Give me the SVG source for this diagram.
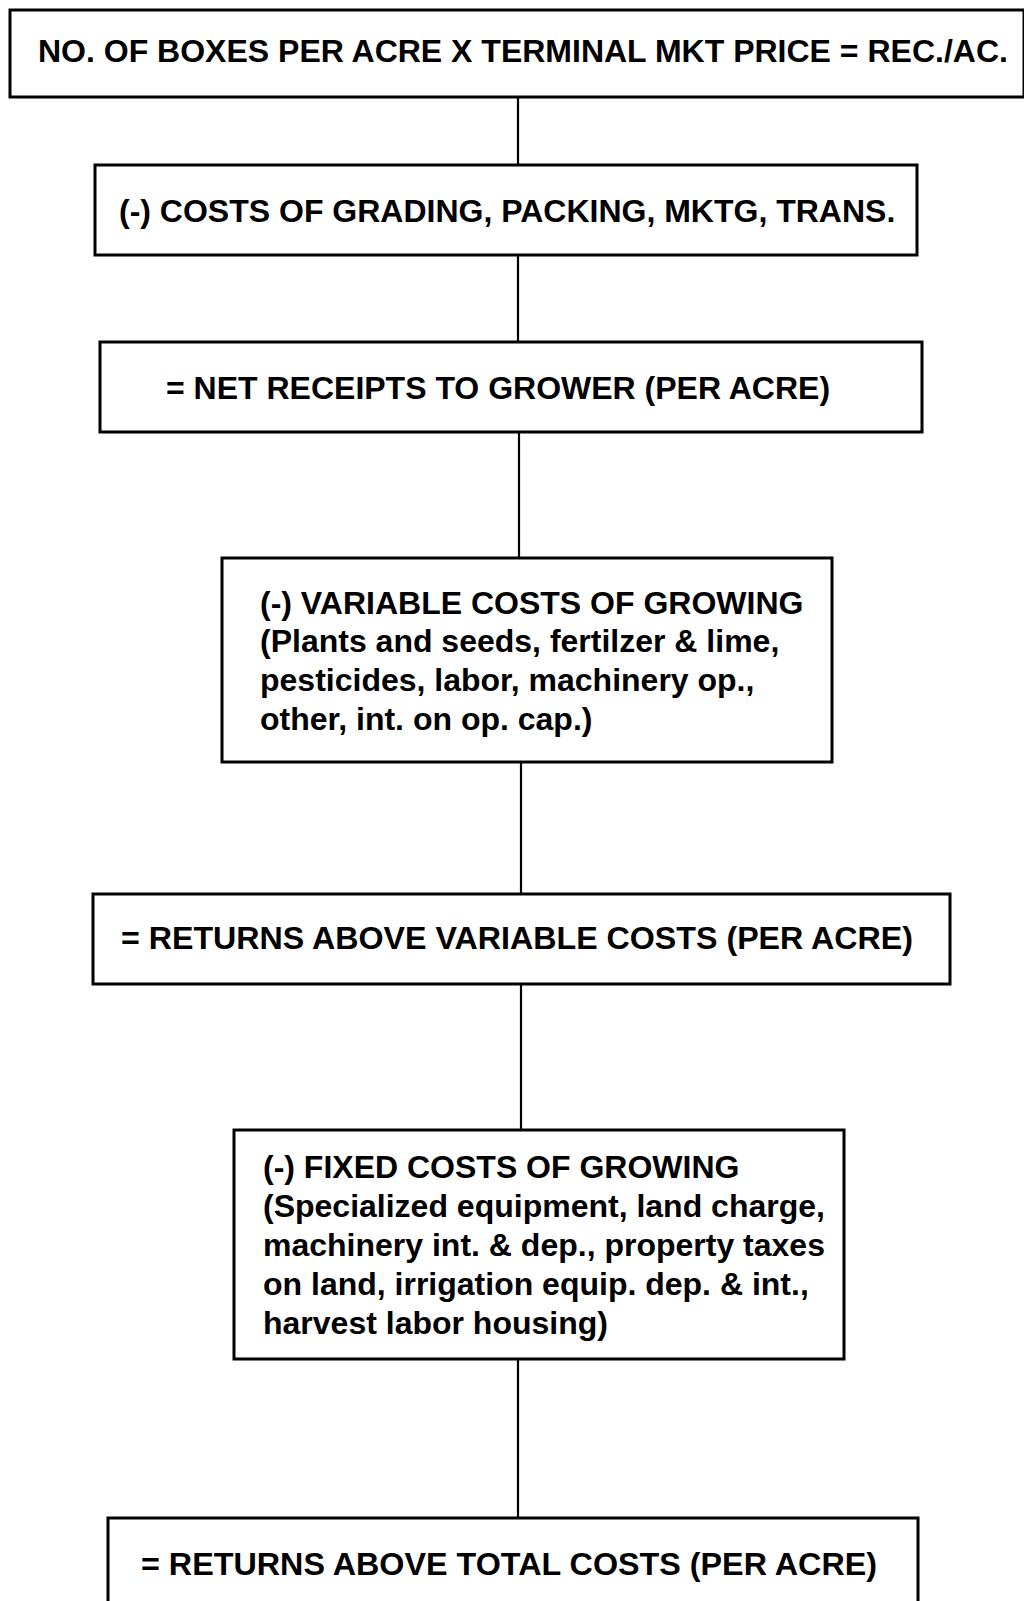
<svg xmlns="http://www.w3.org/2000/svg" width="1024" height="1601" viewBox="0 0 1024 1601">
<style>
.box{fill:#fff;stroke:#000;stroke-width:3}
.conn line{stroke:#000;stroke-width:2.2}
text{font-family:"Liberation Sans",Arial,sans-serif;font-weight:bold;font-size:32px;fill:#000}
</style>
<rect x="0" y="0" width="1024" height="1601" fill="#fff"/>
<g id="connectors" class="conn">
<line x1="518" y1="97" x2="518" y2="165"/>
<line x1="518" y1="255" x2="518" y2="342"/>
<line x1="519" y1="432" x2="519" y2="558"/>
<line x1="521" y1="762" x2="521" y2="894"/>
<line x1="521" y1="984" x2="521" y2="1130"/>
<line x1="518" y1="1359" x2="518" y2="1518"/>
</g>
<g id="n1">
<rect class="box" x="10" y="10" width="1014" height="87"/>
<text x="38" y="62">NO. OF BOXES PER ACRE X TERMINAL MKT PRICE = REC./AC.</text>
</g>
<g id="n2">
<rect class="box" x="95" y="165" width="822" height="90"/>
<text x="119" y="222">(-) COSTS OF GRADING, PACKING, MKTG, TRANS.</text>
</g>
<g id="n3">
<rect class="box" x="100" y="342" width="822" height="90"/>
<text x="166" y="399">= NET RECEIPTS TO GROWER (PER ACRE)</text>
</g>
<g id="n4">
<rect class="box" x="222" y="558" width="610" height="204"/>
<text x="260" y="614">(-) VARIABLE COSTS OF GROWING</text>
<text x="260" y="652">(Plants and seeds, fertilzer &amp; lime,</text>
<text x="260" y="691">pesticides, labor, machinery op.,</text>
<text x="260" y="730">other, int. on op. cap.)</text>
</g>
<g id="n5">
<rect class="box" x="93" y="894" width="857" height="90"/>
<text x="121" y="949" textLength="792" lengthAdjust="spacingAndGlyphs">= RETURNS ABOVE VARIABLE COSTS (PER ACRE)</text>
</g>
<g id="n6">
<rect class="box" x="234" y="1130" width="610" height="229"/>
<text x="263" y="1178">(-) FIXED COSTS OF GROWING</text>
<text x="263" y="1217">(Specialized equipment, land charge,</text>
<text x="263" y="1256">machinery int. &amp; dep., property taxes</text>
<text x="263" y="1295">on land, irrigation equip. dep. &amp; int.,</text>
<text x="263" y="1334">harvest labor housing)</text>
</g>
<g id="n7">
<rect class="box" x="108" y="1518" width="810" height="100"/>
<text x="141" y="1575" textLength="736" lengthAdjust="spacingAndGlyphs">= RETURNS ABOVE TOTAL COSTS (PER ACRE)</text>
</g>
</svg>
